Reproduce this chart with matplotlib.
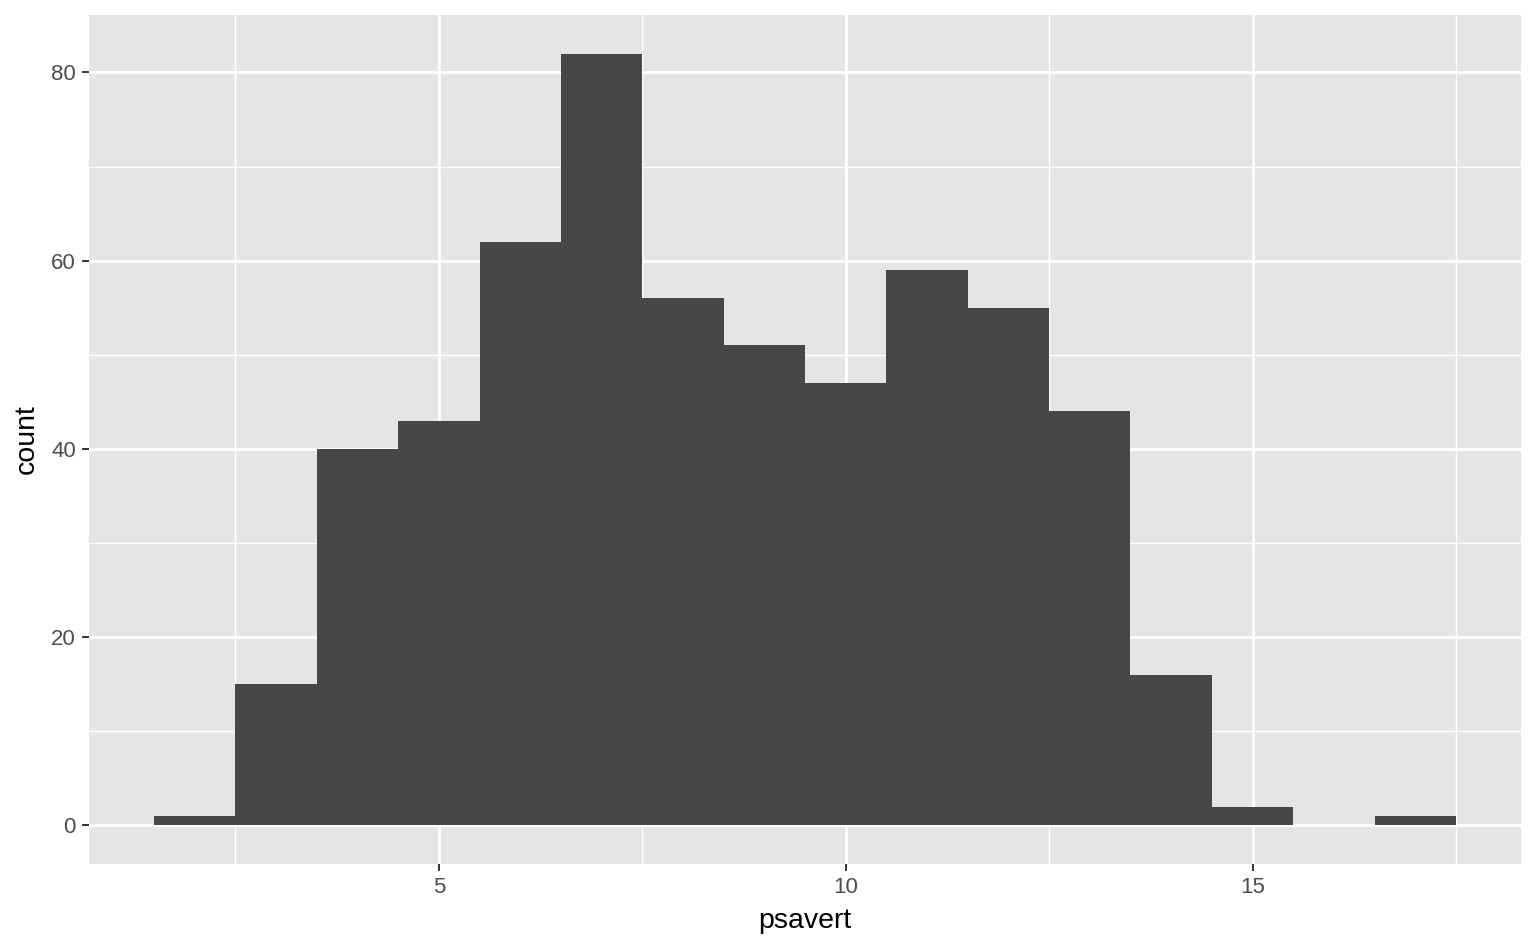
import numpy as np
import matplotlib.pyplot as plt

# personal savings rate histogram, binwidth 1
bin_centers = [2, 3, 4, 5, 6, 7, 8, 9, 10, 11, 12, 13, 14, 15, 16, 17]
counts = [1, 15, 40, 43, 62, 82, 56, 51, 47, 59, 55, 44, 16, 2, 0, 1]
x_ticks = [5, 10, 15]
y_ticks = [0, 20, 40, 60, 80]

plt.rcParams['font.family'] = ['Liberation Sans', 'DejaVu Sans']

fig = plt.figure(figsize=(15.36, 9.49), dpi=100)
W, H = 1536, 949
ax = fig.add_axes([89 / W, (H - 864) / H, (1521 - 89) / W, (864 - 15) / H])

ax.set_facecolor('#E5E5E5')
ax.bar(bin_centers, counts, width=1.0, color='#474747', zorder=3)

# ggplot style expansion (5% of range)
lo = bin_centers[0] - 0.5
hi = bin_centers[-1] + 0.5
pad = (hi - lo) * 0.05
ax.set_xlim(lo - pad, hi + pad)
ypad = max(counts) * 0.05
ax.set_ylim(-ypad, max(counts) + ypad)

ax.set_xticks(x_ticks)
ax.set_yticks(y_ticks)
ax.set_xticks([2.5, 7.5, 12.5, 17.5], minor=True)
ax.set_yticks([10, 30, 50, 70], minor=True)

ax.grid(which='major', color='white', linewidth=2.0, zorder=1)
ax.grid(which='minor', color='white', linewidth=1.0, zorder=1)
ax.set_axisbelow(True)

for s in ax.spines.values():
    s.set_visible(False)

ax.tick_params(which='major', length=5, width=1.4, color='#333333',
               labelsize=16, labelcolor='#4D4D4D', pad=4.5)
ax.tick_params(which='minor', length=0)

ax.set_xlabel('psavert', fontsize=20.5, color='black')
ax.set_ylabel('count', fontsize=20.5, color='black')
ax.xaxis.set_label_coords(0.5, -0.067)
ax.xaxis.label.set_va('center')
ax.yaxis.set_label_coords(-0.0433, 0.5)
ax.yaxis.label.set_va('center')

fig.savefig('out.png', dpi=100)
